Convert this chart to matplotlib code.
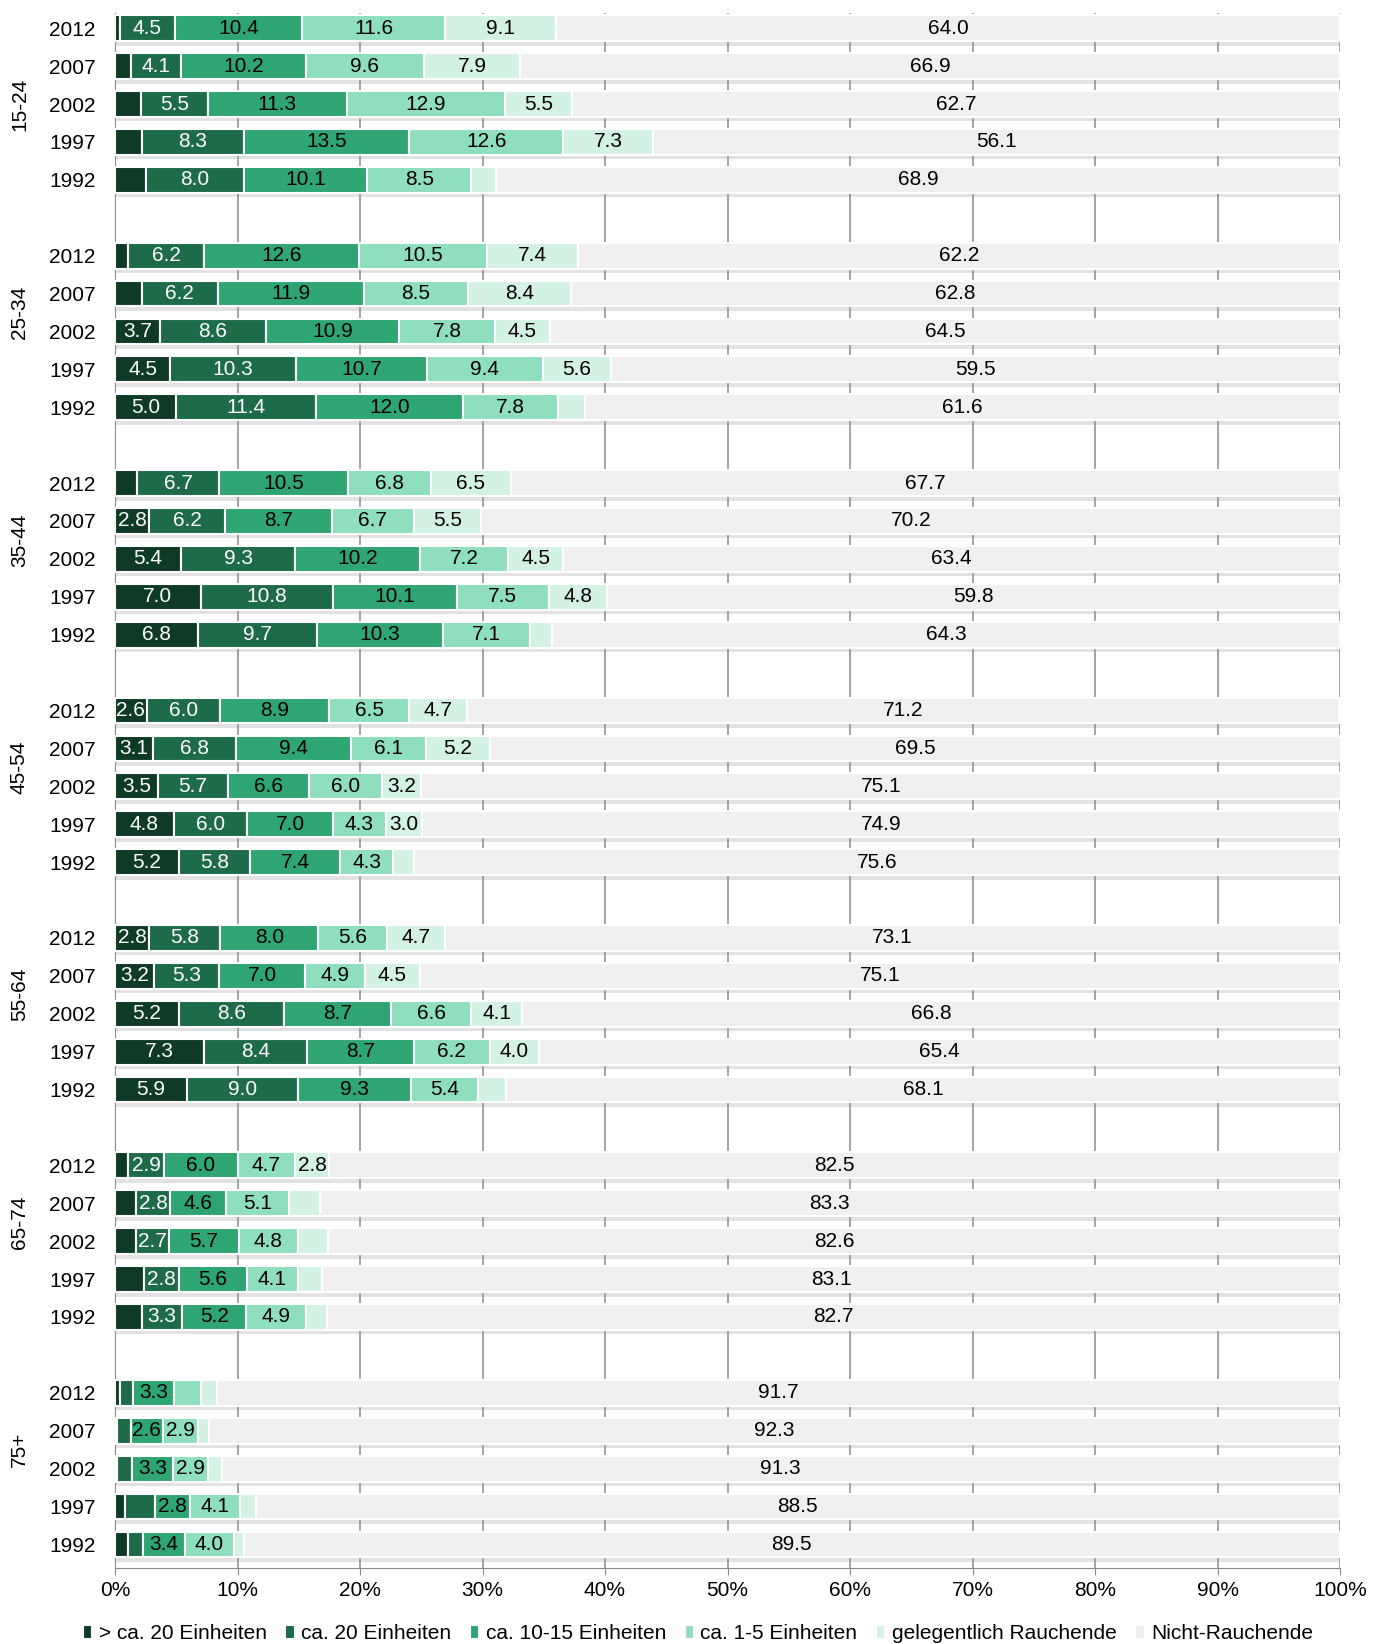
import numpy as np
import matplotlib.pyplot as plt
from matplotlib.transforms import blended_transform_factory

plt.rcParams['font.family'] = ['Liberation Sans', 'DejaVu Sans']

# --------------------------------
# data (rows: age group, then survey year)

age_groups = ['15-24', '25-34', '35-44', '45-54', '55-64', '65-74', '75+']
years = ['2012', '2007', '2002', '1997', '1992']
categories = ['> ca. 20 Einheiten', 'ca. 20 Einheiten', 'ca. 10-15 Einheiten',
              'ca. 1-5 Einheiten', 'gelegentlich Rauchende', 'Nicht-Rauchende']

over20 = [0.4, 1.3, 2.1, 2.2, 2.5,
          1.1, 2.2, 3.7, 4.5, 5.0,
          1.8, 2.8, 5.4, 7.0, 6.8,
          2.6, 3.1, 3.5, 4.8, 5.2,
          2.8, 3.2, 5.2, 7.3, 5.9,
          1.1, 1.7, 1.7, 2.4, 2.2,
          0.4, 0.2, 0.2, 0.8, 1.1]
ca20 = [4.5, 4.1, 5.5, 8.3, 8.0,
        6.2, 6.2, 8.6, 10.3, 11.4,
        6.7, 6.2, 9.3, 10.8, 9.7,
        6.0, 6.8, 5.7, 6.0, 5.8,
        5.8, 5.3, 8.6, 8.4, 9.0,
        2.9, 2.8, 2.7, 2.8, 3.3,
        1.1, 1.1, 1.2, 2.5, 1.2]
ca10_15 = [10.4, 10.2, 11.3, 13.5, 10.1,
           12.6, 11.9, 10.9, 10.7, 12.0,
           10.5, 8.7, 10.2, 10.1, 10.3,
           8.9, 9.4, 6.6, 7.0, 7.4,
           8.0, 7.0, 8.7, 8.7, 9.3,
           6.0, 4.6, 5.7, 5.6, 5.2,
           3.3, 2.6, 3.3, 2.8, 3.4]
ca1_5 = [11.6, 9.6, 12.9, 12.6, 8.5,
         10.5, 8.5, 7.8, 9.4, 7.8,
         6.8, 6.7, 7.2, 7.5, 7.1,
         6.5, 6.1, 6.0, 4.3, 4.3,
         5.6, 4.9, 6.6, 6.2, 5.4,
         4.7, 5.1, 4.8, 4.1, 4.9,
         2.2, 2.9, 2.9, 4.1, 4.0]
occasional = [9.1, 7.9, 5.5, 7.3, 2.0,
              7.4, 8.4, 4.5, 5.6, 2.2,
              6.5, 5.5, 4.5, 4.8, 1.8,
              4.7, 5.2, 3.2, 3.0, 1.7,
              4.7, 4.5, 4.1, 4.0, 2.3,
              2.8, 2.5, 2.5, 2.0, 1.7,
              1.3, 0.9, 1.1, 1.3, 0.8]
non_smokers = [64.0, 66.9, 62.7, 56.1, 68.9,
               62.2, 62.8, 64.5, 59.5, 61.6,
               67.7, 70.2, 63.4, 59.8, 64.3,
               71.2, 69.5, 75.1, 74.9, 75.6,
               73.1, 75.1, 66.8, 65.4, 68.1,
               82.5, 83.3, 82.6, 83.1, 82.7,
               91.7, 92.3, 91.3, 88.5, 89.5]

colors = ['#0e3a26', '#1e6b4a', '#2ea572', '#8fdfbe', '#d4f2e4', '#f0f0f0']
text_colors = ['white', 'white', 'black', 'black', 'black', 'black']

# --------------------------------

series = [over20, ca20, ca10_15, ca1_5, occasional, non_smokers]
ny = len(years)
ypos = np.array([g * (ny + 1) + j for g in range(len(age_groups)) for j in range(ny)])

fig = plt.figure(figsize=(13.82, 16.44), dpi=100)
ax = fig.add_axes([115 / 1382, 0.0465, 1225 / 1382, 0.9458])

bh = 0.68
# soft shadow under each bar
ax.barh(ypos + 0.12, 100, height=bh, color='#e2e2e2', zorder=1)
for x in range(0, 101, 10):
    ax.axvline(x, color='#8c8c8c', lw=1.1, zorder=2)

left = np.zeros(len(ypos))
for vals, col, tcol, name in zip(series, colors, text_colors, categories):
    vals = np.array(vals)
    ax.barh(ypos, vals, left=left, height=bh, color=col, edgecolor='white',
            linewidth=1.5, zorder=3, label=name)
    for y, l, v in zip(ypos, left, vals):
        if v >= 2.6:
            ax.text(l + v / 2, y, f'{v:.1f}', ha='center', va='center',
                    color=tcol, fontsize=15, zorder=4)
    left += vals

ax.set_xlim(0, 100)
ax.set_ylim(ypos[-1] + 0.61, -0.41)
ax.set_xticks(range(0, 101, 10))
ax.set_xticklabels([f'{x}%' for x in range(0, 101, 10)], fontsize=15)
ax.set_yticks(ypos)
ax.set_yticklabels(years * len(age_groups), fontsize=15)
ax.tick_params(axis='y', length=0, pad=14)
ax.tick_params(axis='x', length=5, color='#8c8c8c', pad=4.5)
for s in ['top', 'right']:
    ax.spines[s].set_visible(False)
ax.spines['left'].set_color('#8c8c8c')
ax.spines['bottom'].set_color('#8c8c8c')

# group labels: every group after the first also owns the blank slot above it
trans = blended_transform_factory(ax.transAxes, ax.transData)
for g, name in enumerate(age_groups):
    yc = g * (ny + 1) + 2 - (0.5 if g > 0 else 0)
    ax.text(-0.078, yc, name, rotation=90, ha='center', va='center',
            fontsize=15, transform=trans)

fig.legend(loc='lower center', bbox_to_anchor=(0.505, -0.011), ncol=6, frameon=False,
           fontsize=15, handlelength=0.45, handleheight=0.7, handletextpad=0.3,
           columnspacing=0.9)

fig.savefig('out.png', dpi=100)
